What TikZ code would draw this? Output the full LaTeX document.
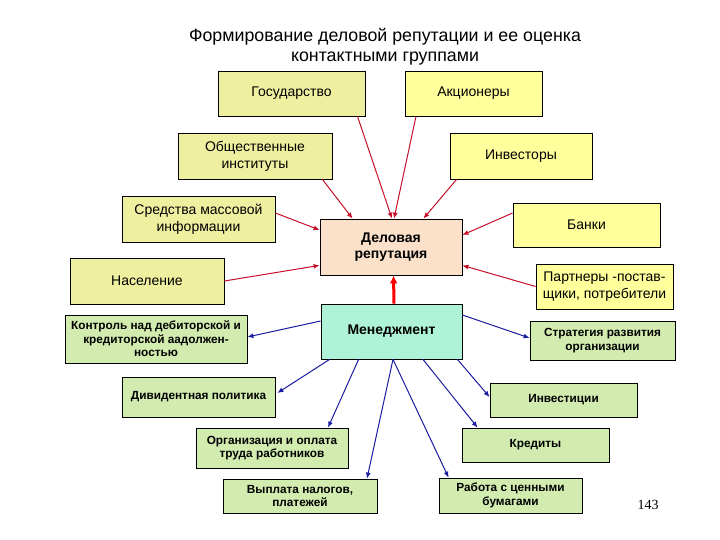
\documentclass[tikz,border=0pt]{standalone}
\usepackage{fontspec}
\setmainfont{Liberation Sans}
\newfontfamily\numfont{Liberation Serif}
\usetikzlibrary{arrows.meta,calc}
\definecolor{ylwA}{HTML}{EFEFA0}
\definecolor{ylwB}{HTML}{FFFF9C}
\definecolor{grn}{HTML}{D2ECB0}
\definecolor{peach}{HTML}{FBE1CA}
\definecolor{aqua}{HTML}{AEF2D8}
\definecolor{redarr}{HTML}{C8102A}
\definecolor{bluearr}{HTML}{1C1CA0}
\tikzset{
  box/.style={draw=black, line width=0.8pt, align=center, inner sep=2pt},
  ybox/.style={box, fill=ylwA, font=\fontsize{14}{17}\selectfont},
  ybox2/.style={box, fill=ylwB, font=\fontsize{14}{17}\selectfont},
  gbox/.style={box, fill=grn, font=\fontsize{11.8}{13.5}\selectfont\bfseries},
  rarr/.style={draw=redarr, line width=1pt, -{Latex[length=6pt,width=5pt]}},
  barr/.style={draw=bluearr, line width=1pt, -{Latex[length=6pt,width=5pt]}},
  thickarr/.style={draw=red, line width=3pt, -{Latex[length=8pt,width=8pt]}}
}
\begin{document}
\begin{tikzpicture}[x=1pt,y=-1pt]
\useasboundingbox[fill=white] (0,0) rectangle (720,540);
\node[font=\fontsize{17.8}{20}\selectfont, align=center] (title) at (385,47) {Формирование деловой репутации и ее оценка\\контактными группами};

\node[ybox, minimum width=147, minimum height=45] (gos) at (291.5,93.5) {Государство};
\node[ybox2, minimum width=137, minimum height=45] (akc) at (473.5,93.5) {Акционеры};
\node[ybox, minimum width=154, minimum height=46] (obs) at (255,156) {Общественные\\институты};
\node[ybox2, minimum width=142, minimum height=46] (inv) at (521,156) {Инвесторы};
\node[ybox, minimum width=153, minimum height=46] (smi) at (198.5,219) {Средства массовой\\информации};
\node[box, fill=peach, minimum width=142, minimum height=56, font=\fontsize{14}{16.5}\selectfont\bfseries] (del) at (391,247) {Деловая\\репутация};
\node[ybox2, minimum width=147, minimum height=44] (bank) at (586.5,225) {Банки};
\node[ybox, minimum width=154, minimum height=46] (nas) at (147,281) {Население};
\node[ybox2, minimum width=137, minimum height=45] (par) at (604.5,286.5) {Партнеры -постав-\\щики, потребители};
\node[box, fill=aqua, minimum width=141, minimum height=55, font=\fontsize{14}{16}\selectfont\bfseries] (men) at (391.5,331.5) {Менеджмент};

\node[gbox, minimum width=182, minimum height=48] (kon) at (156,339) {Контроль над дебиторской и\\кредиторской аадолжен-\\ностью};
\node[gbox, minimum width=145, minimum height=39] (str) at (602.5,340.5) {Стратегия развития\\организации};
\node[gbox, minimum width=153, minimum height=40] (div) at (198.5,397) {Дивидентная политика};
\node[gbox, minimum width=147, minimum height=34] (invest) at (563.5,400) {Инвестиции};
\node[gbox, minimum width=152, minimum height=40] (org) at (272,448) {Организация и оплата\\труда работников};
\node[gbox, minimum width=147, minimum height=34] (kred) at (535.5,445) {Кредиты};
\node[gbox, minimum width=154, minimum height=34] (vyp) at (300,496) {Выплата налогов,\\платежей};
\node[gbox, minimum width=143, minimum height=35] (rab) at (510.5,495.5) {Работа с ценными\\бумагами};

\node[font=\numfont\fontsize{14}{16}\selectfont] (num) at (648,505) {143};

% red arrows into reputation
\draw[rarr] ([xshift=66pt]gos.south) -- ([xshift=1pt]del.north);
\draw[rarr] ([xshift=-57.5pt]akc.south) -- ([xshift=3pt]del.north);
\draw[rarr] ([xshift=-10pt]obs.south east) -- ([xshift=33pt]del.north west);
\draw[rarr] ([yshift=6pt]smi.east) -- ([yshift=17pt]del.west);
\draw[rarr] ([xshift=7pt]inv.south west) -- ([xshift=-39pt]del.north east);
\draw[rarr] ([yshift=12pt]bank.west) -- ([yshift=12pt]del.east);
\draw[rarr] (nas.east) -- ([yshift=10pt]del.south west);
\draw[rarr] (par.west) -- ([yshift=10pt]del.south east);
\draw[thickarr] ([xshift=2.5pt]men.north) -- ([xshift=2.5pt]del.south);

% blue arrows from management
\draw[barr] ([yshift=10.5pt]men.west) -- ([yshift=2pt]kon.east);
\draw[barr] ([yshift=16.5pt]men.east) -- ([yshift=2.5pt]str.west);
\draw[barr] ([xshift=9pt]men.south west) -- ([xshift=2pt,yshift=4pt]div.east);
\draw[barr] ([xshift=38pt]men.south west) -- ([xshift=56pt]org.north);
\draw[barr] ([xshift=1.5pt]men.south) -- ([xshift=67pt]vyp.north);
\draw[barr] ([xshift=1.5pt]men.south) -- ([xshift=10pt]rab.north west);
\draw[barr] ([xshift=31.5pt]men.south) -- ([xshift=16pt]kred.north west);
\draw[barr] ([xshift=-5pt]men.south east) -- ([yshift=3pt]invest.west);
\end{tikzpicture}
\end{document}
